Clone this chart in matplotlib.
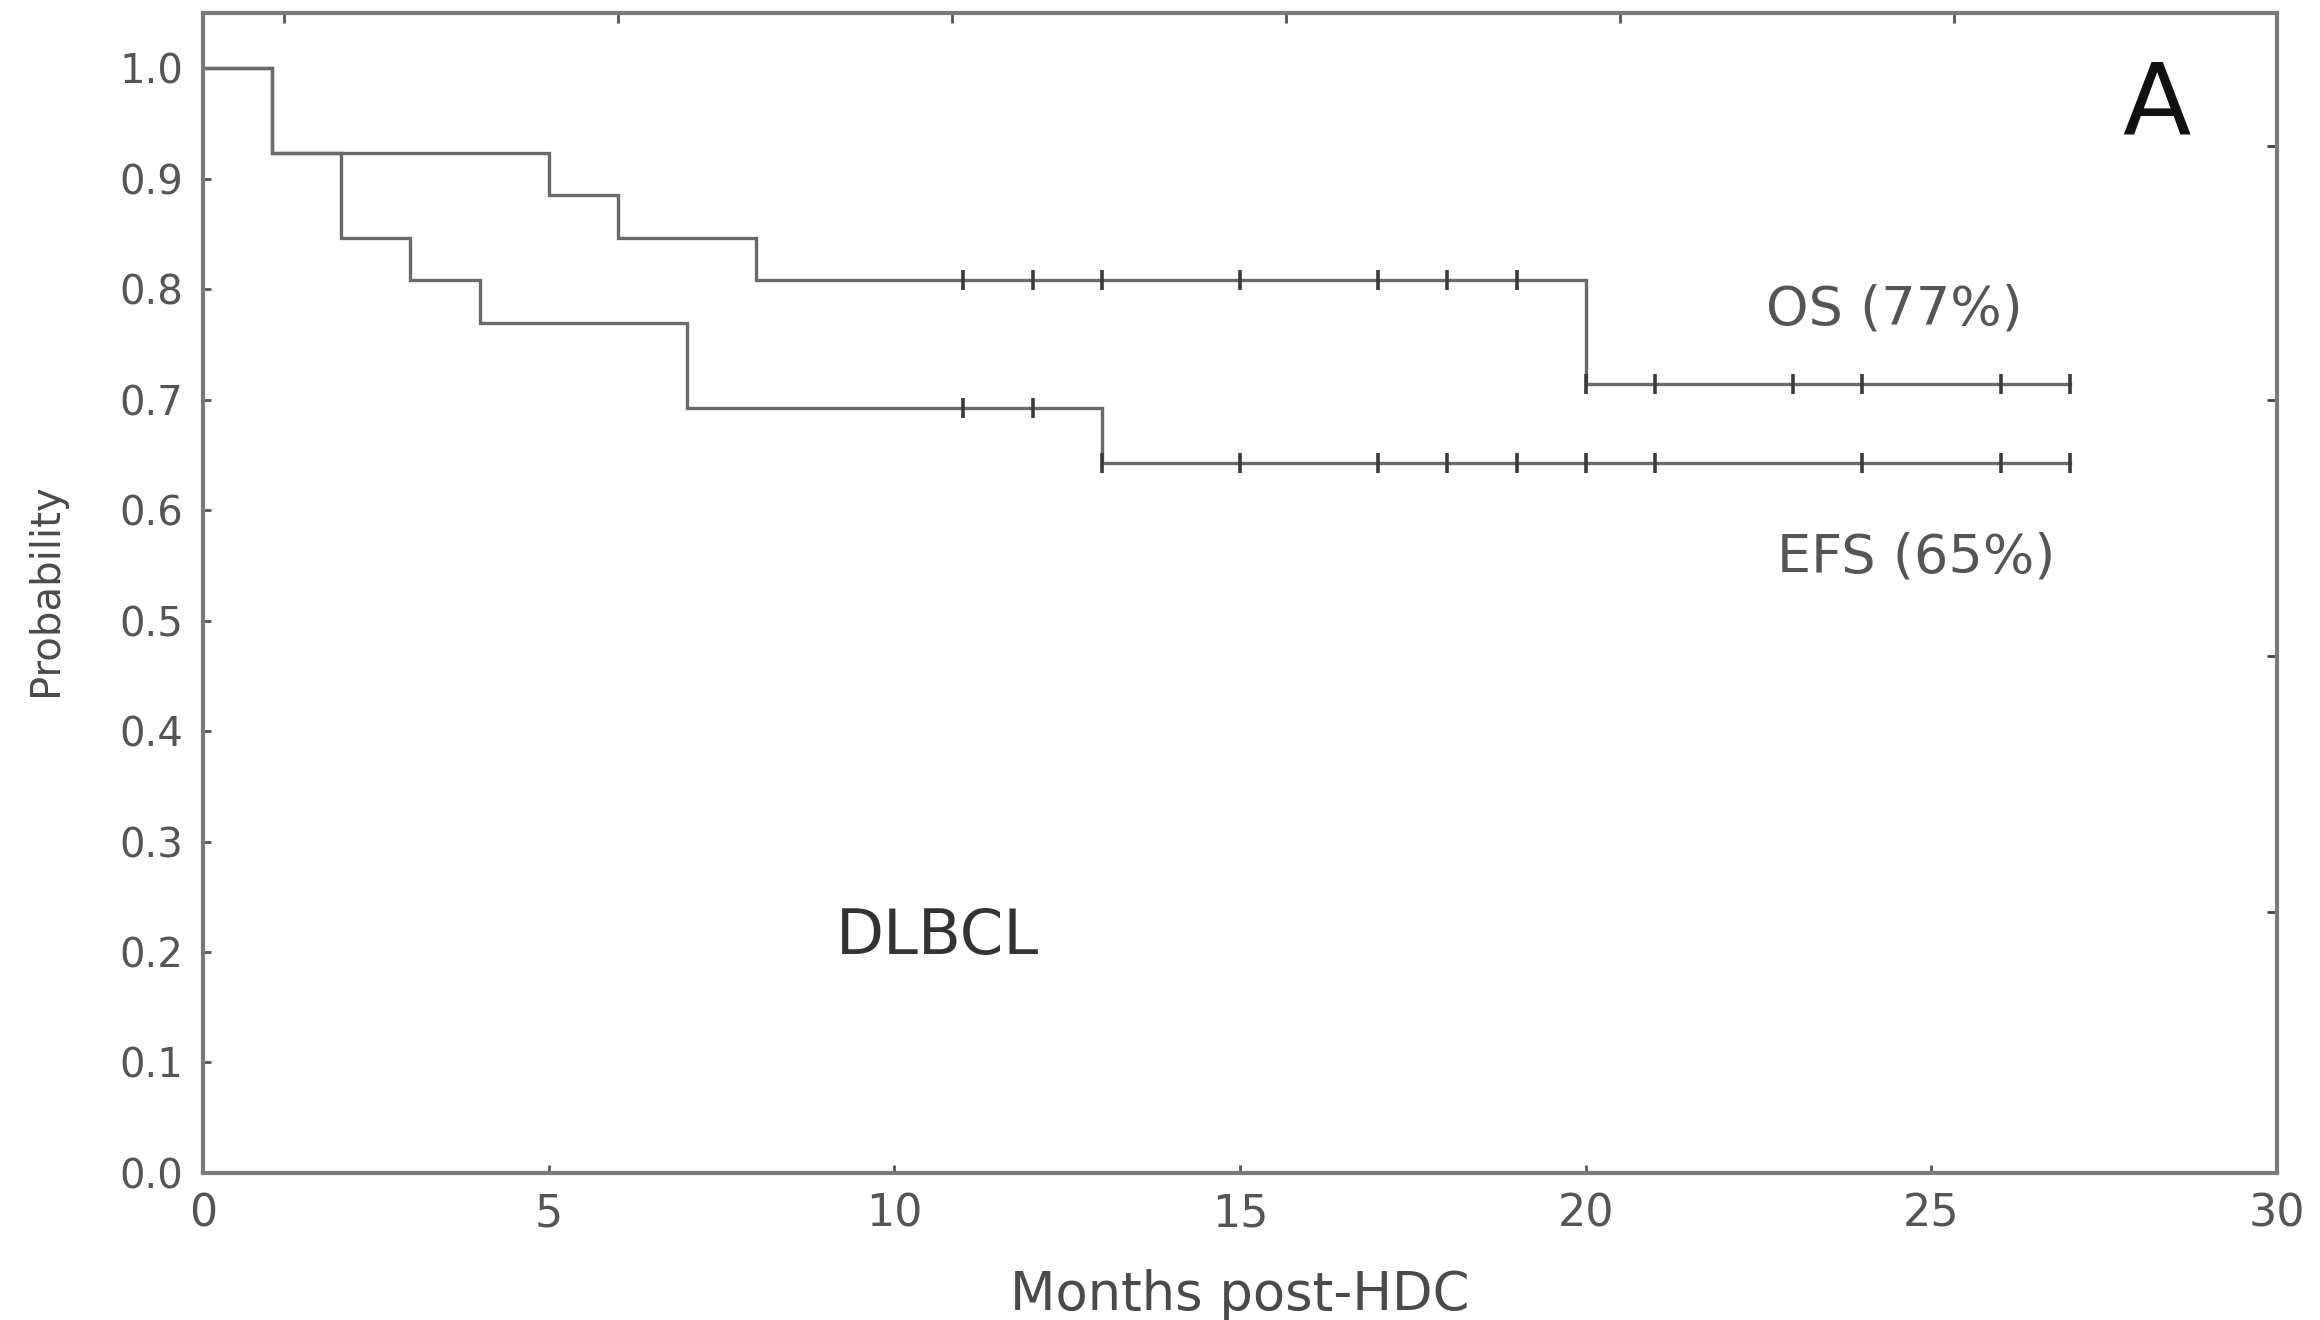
import matplotlib
matplotlib.use("Agg")
import matplotlib.pyplot as plt
import numpy as np

# Kaplan-Meier estimates (months post-HDC)
os_times = [0, 1, 5, 6, 8, 20, 27]
os_surv = [1.0, 0.923, 0.885, 0.846, 0.808, 0.714, 0.714]
os_censored = [11, 12, 13, 15, 17, 18, 19, 20, 21, 23, 24, 26, 27]

efs_times = [0, 1, 2, 3, 4, 7, 13, 27]
efs_surv = [1.0, 0.923, 0.846, 0.808, 0.769, 0.692, 0.643, 0.643]
efs_censored = [11, 12, 13, 15, 17, 18, 19, 20, 21, 24, 26, 27]

x_ticks = [0, 5, 10, 15, 20, 25, 30]
y_ticks = [0.0, 0.1, 0.2, 0.3, 0.4, 0.5, 0.6, 0.7, 0.8, 0.9, 1.0]
top_ticks = [1.17, 6.0, 10.83, 15.66, 20.49, 25.32]
right_ticks = [0.236, 0.468, 0.700, 0.930]

LINE = "#6a6a6a"
SPINE = "#7a7a7a"
TEXT = "#555555"
FONT = "DejaVu Sans"


def step_value(times, surv, t):
    idx = np.searchsorted(times, t, side="right") - 1
    return surv[idx]


fig = plt.figure(figsize=(23.2, 13.2), dpi=100)
ax = fig.add_axes([0.0875, 0.1114, 0.894, 0.8788])

for times, surv, cens in ((os_times, os_surv, os_censored),
                          (efs_times, efs_surv, efs_censored)):
    ax.step(times, surv, where="post", color=LINE, lw=2.4, solid_joinstyle="miter")
    cy = [step_value(times, surv, t) for t in cens]
    ax.plot(cens, cy, ls="none", marker="|", ms=15, mew=2.6, color="#3a3a3a")

ax.set_xlim(0, 30)
ax.set_ylim(0, 1.05)
ax.set_xticks(x_ticks)
ax.set_xticklabels([str(v) for v in x_ticks])
ax.set_yticks(y_ticks)
ax.set_yticklabels([f"{v:.1f}" for v in y_ticks])

for s in ax.spines.values():
    s.set_color(SPINE)
    s.set_linewidth(3.0)

ax.tick_params(axis="both", direction="in", length=6, width=2, color="#555555",
               labelcolor=TEXT)
ax.tick_params(axis="x", labelsize=32, pad=14)
ax.tick_params(axis="y", labelsize=29, pad=14)
for lab in ax.get_xticklabels() + ax.get_yticklabels():
    lab.set_family(FONT)

# secondary tick marks along the top and right frame
secx = ax.secondary_xaxis("top")
secx.set_xticks(top_ticks)
secx.set_xticklabels([])
secx.tick_params(direction="in", length=7, width=2, color="#555555")
secx.spines["top"].set_visible(False)

secy = ax.secondary_yaxis("right")
secy.set_yticks(right_ticks)
secy.set_yticklabels([])
secy.tick_params(direction="in", length=7, width=2, color="#444444")
secy.spines["right"].set_visible(False)

ax.set_xlabel("Months post-HDC", fontsize=38, color="#4a4a4a", family=FONT)
ax.set_ylabel("Probability", fontsize=29, color="#4a4a4a", family=FONT)
ax.xaxis.set_label_coords(0.5, -0.083)
ax.yaxis.set_label_coords(-0.066, 0.503)

ax.text(24.46, 0.782, "OS (77%)", fontsize=39, color="#555555", family=FONT,
        ha="center", va="center")
ax.text(24.78, 0.557, "EFS (65%)", fontsize=39, color="#555555", family=FONT,
        ha="center", va="center")
ax.text(10.63, 0.214, "DLBCL", fontsize=45, color="#333333", family=FONT,
        ha="center", va="center")
ax.text(28.26, 0.965, "A", fontsize=72, color="#111111", family=FONT,
        ha="center", va="center")

fig.savefig("out.png", dpi=100, facecolor="white")
